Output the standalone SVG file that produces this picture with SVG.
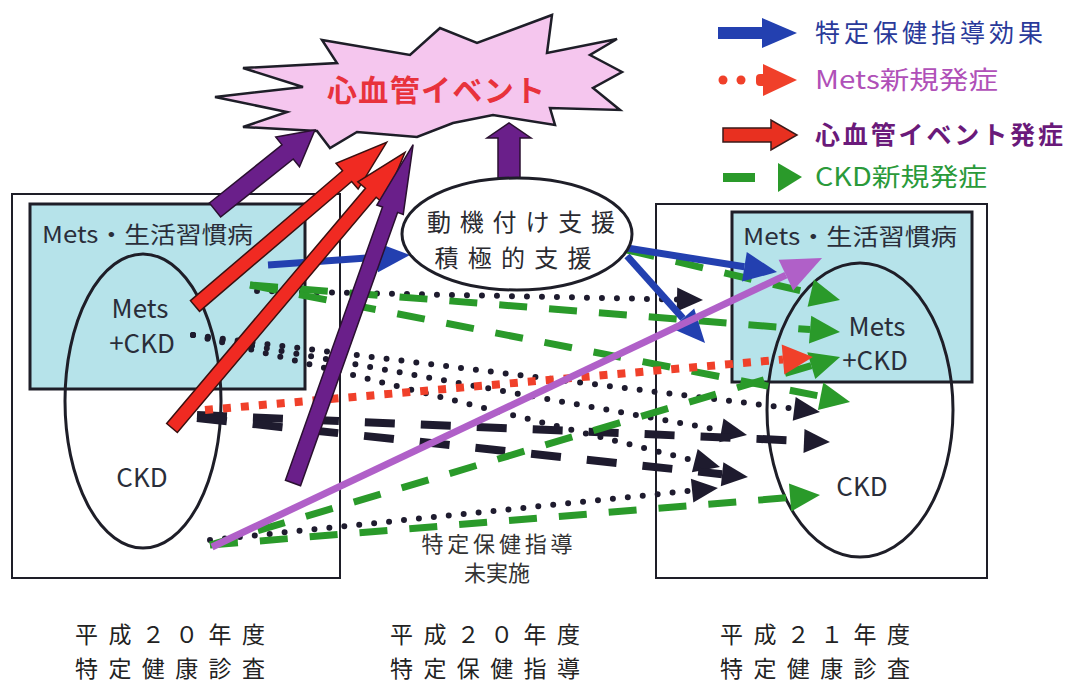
<svg xmlns="http://www.w3.org/2000/svg" width="1072" height="685" viewBox="0 0 1072 685">
<style>
.t{font-family:"Noto Sans CJK JP","Noto Sans",sans-serif;}
.box{fill:#fff;stroke:#1e1e28;stroke-width:2;}
.inner{fill:#b6e3ea;stroke:#1e1e28;stroke-width:3;}
.ell{fill:none;stroke:#1e1e28;stroke-width:3;}
.lbl{font-size:23px;fill:#2a2e3a;}
.big{font-size:26px;fill:#2a2e3a;}
.dot{fill:none;stroke:#1e1b2e;stroke-width:6;stroke-linecap:round;stroke-dasharray:0 15;}
.bdash{fill:none;stroke:#1e1b2e;stroke-width:8;stroke-dasharray:30 26;}
.gdash{fill:none;stroke:#2a9a2a;stroke-width:7;stroke-dasharray:28 22;}
.rdot{fill:none;stroke:#f0402a;stroke-width:8;stroke-dasharray:8 10;}
.blue{fill:none;stroke:#2340b0;stroke-width:7;}
.pink{fill:none;stroke:#b060c8;stroke-width:7;}
.purp{fill:#6a1f8a;stroke:#2a1030;stroke-width:1.5;}
.red{fill:#f02a22;stroke:#3a1010;stroke-width:1.5;}
.yr{font-size:23px;fill:#222;}
.sup{font-size:24px;fill:#2a2a30;}
</style>
<defs>
<marker id="mB" markerUnits="userSpaceOnUse" markerWidth="34" markerHeight="30" refX="0" refY="15" orient="auto" overflow="visible"><path d="M0,0 L33,15 L0,30 z" fill="#2340b0"/></marker>
<marker id="mP" markerUnits="userSpaceOnUse" markerWidth="40" markerHeight="34" refX="0" refY="17" orient="auto" overflow="visible"><path d="M0,0 L40,17 L0,34 z" fill="#b060c8"/></marker>
<marker id="mR" markerUnits="userSpaceOnUse" markerWidth="30" markerHeight="30" refX="0" refY="15" orient="auto" overflow="visible"><path d="M0,0 L30,15 L0,30 z" fill="#f0402a"/></marker>
<marker id="mK" markerUnits="userSpaceOnUse" markerWidth="26" markerHeight="24" refX="0" refY="12" orient="auto" overflow="visible"><path d="M0,0 L26,12 L0,24 z" fill="#1e1b2e"/></marker>
<marker id="mG" markerUnits="userSpaceOnUse" markerWidth="30" markerHeight="28" refX="0" refY="14" orient="auto" overflow="visible"><path d="M0,0 L30,14 L0,28 z" fill="#2a9a2a"/></marker>
</defs>
<rect width="1072" height="685" fill="#fff"/>

<g id="left-year">
<rect class="box" x="12" y="194" width="328" height="384"/>
<rect class="inner" x="30" y="204" width="275" height="185"/>
<ellipse class="ell" cx="143" cy="401" rx="78" ry="147"/>
<text class="t lbl" x="42" y="243" textLength="211" lengthAdjust="spacingAndGlyphs">Mets・生活習慣病</text>
<text class="t big" x="140" y="318" text-anchor="middle">Mets</text>
<text class="t big" x="142" y="353" text-anchor="middle">+CKD</text>
<text class="t big" x="142" y="487" text-anchor="middle">CKD</text>
</g>

<g id="right-year">
<rect class="box" x="656" y="204" width="331" height="374"/>
<rect class="inner" x="732" y="212" width="240" height="170"/>
<ellipse class="ell" cx="860" cy="410" rx="93" ry="147"/>
<text class="t lbl" x="743" y="245" textLength="214" lengthAdjust="spacingAndGlyphs">Mets・生活習慣病</text>
<text class="t big" x="877" y="336" text-anchor="middle">Mets</text>
<text class="t big" x="875" y="370" text-anchor="middle">+CKD</text>
<text class="t big" x="862" y="496" text-anchor="middle">CKD</text>
</g>

<g id="event">
<polygon points="215,97 303,87 243,68 337,63 322,40 410,55 440,28 477,43 552,15 547,53 617,39 590,55 622,72 593,88 620,110 550,108 555,125 493,115 453,123 417,137 357,132 330,148 317,131 243,127 287,112" fill="#f5c6ee" stroke="#1e1e28" stroke-width="2.5"/>
<text class="t" x="327" y="101" font-size="30" font-weight="bold" fill="#e8323c" textLength="218">心血管イベント</text>
</g>

<g id="connectors">
<path class="dot" d="M257,291 L677,299.5" marker-end="url(#mK)"/>
<path class="dot" d="M193,335 L794.2,408.8" marker-end="url(#mK)"/>
<path class="dot" d="M193,335 L721.4,430.4" marker-end="url(#mK)"/>
<path class="dot" d="M193,335 L694.8,460.7" marker-end="url(#mK)"/>
<path class="dot" d="M210,540 L692.1,490.6" marker-end="url(#mK)"/>
<path class="bdash" d="M197,415 L804,440.9" marker-end="url(#mK)"/>
<path class="bdash" d="M197,418 L722.1,474.2" marker-end="url(#mK)"/>
<path class="gdash" d="M627,250 L810.8,293.1" marker-end="url(#mG)"/>
<path class="gdash" d="M250,285 L810.1,329.6" marker-end="url(#mG)"/>
<path class="gdash" d="M250,285 L820.6,396.3" marker-end="url(#mG)"/>
<path class="gdash" d="M210,545 L811.3,365.6" marker-end="url(#mG)"/>
<path class="gdash" d="M210,545 L790.1,497.5" marker-end="url(#mG)"/>
<path class="rdot" d="M205,410 L783,359.5" marker-end="url(#mR)"/>
<path class="blue" d="M268,265 L377,257.3" marker-end="url(#mB)"/>
<path class="blue" d="M627,248 L744.4,266.8" marker-end="url(#mB)"/>
<path class="blue" d="M627,256 L683,318.4" marker-end="url(#mB)"/>
<path class="pink" d="M212,547 L785.9,275.1" marker-end="url(#mP)"/>
<polygon class="red" transform="translate(195,306) rotate(-40.5)" points="0,-7 200,-7 200,-17 252,0 200,17 200,7 0,7"/>
<polygon class="red" transform="translate(172,428) rotate(-49.8)" points="0,-7 308,-7 308,-17 361,0 308,17 308,7 0,7"/>
<polygon class="purp" transform="translate(215,210) rotate(-38.66)" points="0,-9 93,-9 93,-19 128,0 93,19 93,9 0,9"/>
<polygon class="purp" transform="translate(293,483) rotate(-70.45)" points="0,-8 290,-8 290,-14 359,0 290,14 290,8 0,8"/>
<polygon class="purp" points="498,180 498,138 487,138 509,123 531,138 520,138 520,180"/>
</g>

<g id="support">
<ellipse cx="517" cy="234" rx="115" ry="56" fill="#fff" stroke="#1e1e28" stroke-width="3"/>
<text class="t sup" x="521" y="231" text-anchor="middle" textLength="188">動機付け支援</text>
<text class="t sup" x="513" y="267" text-anchor="middle" textLength="157">積極的支援</text>
</g>

<g id="no-guidance">
<text class="t" x="497" y="552" font-size="22" fill="#333" text-anchor="middle" textLength="151">特定保健指導</text>
<text class="t" x="497" y="581" font-size="22" fill="#333" text-anchor="middle">未実施</text>
</g>

<g id="legend">
<rect x="718" y="27" width="48" height="12" fill="#2340b0"/>
<polygon points="762,18 797,33 762,48" fill="#2340b0"/>
<text class="t" x="815" y="42" font-size="25" fill="#2a3a9a" textLength="228">特定保健指導効果</text>
<circle cx="723" cy="80" r="4.5" fill="#f0402a"/>
<circle cx="741" cy="80" r="4.5" fill="#f0402a"/>
<rect x="756" y="74" width="12" height="12" rx="4" fill="#f0402a"/>
<polygon points="763,64 797,80 763,96" fill="#f0402a"/>
<text class="t" x="815" y="89" font-size="25" fill="#b050b8" textLength="183" lengthAdjust="spacingAndGlyphs">Mets新規発症</text>
<polygon points="723,128 771,128 771,120 797,135 771,150 771,142 723,142" fill="#e83020" stroke="#3a1a1a" stroke-width="1.5"/>
<text class="t" x="815" y="144" font-size="25" font-weight="bold" fill="#6a1a7a" textLength="248">心血管イベント発症</text>
<rect x="723" y="173" width="32" height="9" fill="#2a9a2a"/>
<polygon points="778,163 802,177 778,192" fill="#2a9a2a"/>
<text class="t" x="815" y="186" font-size="25" fill="#2a9a3a" textLength="172" lengthAdjust="spacingAndGlyphs">CKD新規発症</text>
</g>

<g id="years">
<text class="t yr" x="75" y="643" textLength="190">平成２０年度</text>
<text class="t yr" x="75" y="677" textLength="190">特定健康診査</text>
<text class="t yr" x="390" y="643" textLength="190">平成２０年度</text>
<text class="t yr" x="390" y="677" textLength="190">特定保健指導</text>
<text class="t yr" x="720" y="643" textLength="190">平成２１年度</text>
<text class="t yr" x="720" y="677" textLength="190">特定健康診査</text>
</g>
</svg>
